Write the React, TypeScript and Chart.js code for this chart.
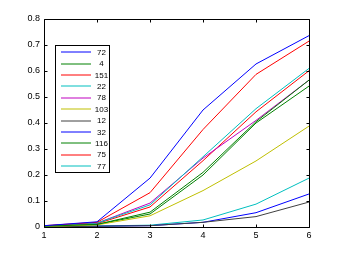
import React, { useEffect, useRef } from "react";
import { Chart, registerables } from "chart.js";

Chart.register(...registerables);

const xValues = [1, 2, 3, 4, 5, 6];
const seriesNames = ["72", "4", "151", "22", "78", "103", "12", "32", "116", "75", "77"];
const s72 = [0.005, 0.02, 0.188, 0.45, 0.627, 0.736];
const s4 = [0.003, 0.01, 0.057, 0.21, 0.405, 0.565];
const s151 = [0.005, 0.018, 0.132, 0.375, 0.587, 0.715];
const s22 = [0.004, 0.015, 0.085, 0.27, 0.455, 0.61];
const s78 = [0.004, 0.015, 0.092, 0.265, 0.41, 0.565];
const s103 = [0.002, 0.008, 0.043, 0.14, 0.254, 0.388];
const s12 = [0.001, 0.003, 0.005, 0.018, 0.04, 0.096];
const s32 = [0.001, 0.003, 0.005, 0.018, 0.055, 0.127];
const s116 = [0.003, 0.01, 0.05, 0.2, 0.4, 0.542];
const s75 = [0.004, 0.013, 0.077, 0.255, 0.443, 0.601];
const s77 = [0.001, 0.004, 0.007, 0.027, 0.088, 0.188];
const seriesValues = [s72, s4, s151, s22, s78, s103, s12, s32, s116, s75, s77];
const colorCycle = ["#0000ff", "#008000", "#ff0000", "#00bfbf", "#bf00bf", "#bfbf00", "#404040"];
const yTicks = [0, 0.1, 0.2, 0.3, 0.4, 0.5, 0.6, 0.7, 0.8];

const FONT = "Liberation Sans, Arial, sans-serif";

const boxPlugin = {
  id: "matlabBox",
  afterDatasetsDraw(chart: any) {
    const { ctx, chartArea } = chart;
    const xs = chart.scales.x;
    const ys = chart.scales.y;
    const L = Math.round(chartArea.left) + 0.5;
    const R = Math.round(chartArea.right) + 0.5;
    const T = Math.round(chartArea.top) + 0.5;
    const B = Math.round(chartArea.bottom) + 0.5;
    ctx.save();
    ctx.strokeStyle = "#000";
    ctx.lineWidth = 1;
    ctx.beginPath();
    ctx.rect(L, T, R - L, B - T);
    const tl = 3;
    xValues.forEach((v) => {
      const px = Math.round(xs.getPixelForValue(v)) + 0.5;
      ctx.moveTo(px, B);
      ctx.lineTo(px, B - tl);
      ctx.moveTo(px, T);
      ctx.lineTo(px, T + tl);
    });
    yTicks.forEach((v) => {
      const py = Math.round(ys.getPixelForValue(v)) + 0.5;
      ctx.moveTo(L, py);
      ctx.lineTo(L + tl, py);
      ctx.moveTo(R, py);
      ctx.lineTo(R - tl, py);
    });
    ctx.stroke();

    // legend
    const lx = 55.5, ly = 45.5, lw = 54, lh = 127;
    ctx.fillStyle = "#fff";
    ctx.fillRect(lx, ly, lw, lh);
    ctx.strokeStyle = "#000";
    ctx.strokeRect(lx, ly, lw, lh);
    ctx.font = "8px " + FONT;
    ctx.textBaseline = "middle";
    ctx.textAlign = "center";
    const step = 11.37;
    seriesNames.forEach((name, i) => {
      const cy = ly + 6.8 + i * step;
      ctx.strokeStyle = colorCycle[i % colorCycle.length];
      ctx.beginPath();
      ctx.moveTo(61, Math.round(cy));
      ctx.lineTo(91, Math.round(cy));
      ctx.stroke();
      ctx.fillStyle = "#000";
      ctx.fillText(name, 101.5, cy + 0.5);
    });
    ctx.restore();
  },
};

export default function App() {
  const ref = useRef<HTMLCanvasElement | null>(null);
  useEffect(() => {
    document.body.style.margin = "0";
    const chart = new Chart(ref.current as HTMLCanvasElement, {
      type: "line",
      data: {
        datasets: seriesValues.map((vals, i) => ({
          label: seriesNames[i],
          data: vals.map((v, j) => ({ x: xValues[j], y: v })),
          borderColor: colorCycle[i % colorCycle.length],
          backgroundColor: colorCycle[i % colorCycle.length],
          borderWidth: 1,
          pointRadius: 0,
          tension: 0,
          fill: false,
        })),
      },
      options: {
        animation: false,
        responsive: false,
        maintainAspectRatio: false,
        layout: { padding: { top: 19, right: 32, left: 0, bottom: 0 } },
        plugins: { legend: { display: false }, tooltip: { enabled: false } },
        scales: {
          x: {
            type: "linear",
            min: 1,
            max: 6,
            grid: { display: false, drawTicks: false },
            border: { display: false },
            afterFit: (s: any) => { s.height = 29; },
            afterBuildTicks: (s: any) => { s.ticks = xValues.map((v) => ({ value: v })); },
            ticks: {
              padding: 3,
              maxRotation: 0,
              color: "#000",
              font: { family: FONT, size: 9 },
              callback: (v: any) => String(v),
            },
          },
          y: {
            type: "linear",
            min: 0,
            max: 0.8,
            grid: { display: false, drawTicks: false },
            border: { display: false },
            afterFit: (s: any) => { s.width = 44; },
            afterBuildTicks: (s: any) => { s.ticks = yTicks.map((v) => ({ value: v })); },
            ticks: {
              padding: 4,
              color: "#000",
              font: { family: FONT, size: 9 },
              callback: (v: any) => (v === 0 ? "0" : Number(v).toFixed(1)),
            },
          },
        },
      },
      plugins: [boxPlugin],
    });
    return () => chart.destroy();
  }, []);
  return (
    <div style={{ position: "absolute", left: 0, top: 0, width: 341, height: 256, background: "#fff" }}>
      <canvas ref={ref} width={341} height={256} style={{ width: 341, height: 256 }} />
    </div>
  );
}
